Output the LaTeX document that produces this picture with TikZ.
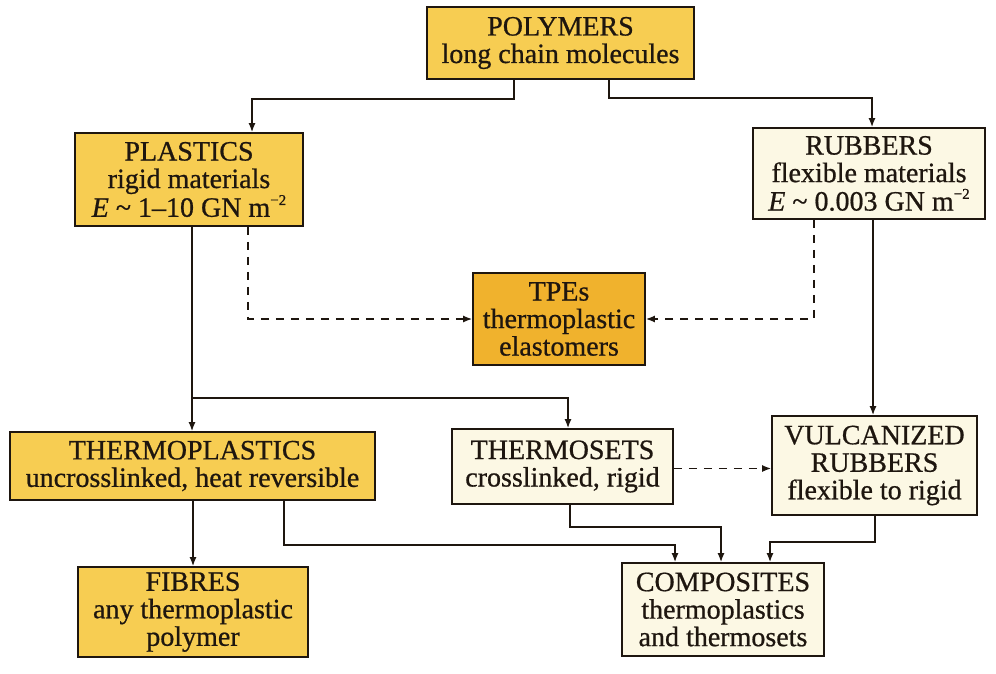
\documentclass[tikz,border=0pt]{standalone}
\usepackage{fontspec}
\setmainfont{Liberation Serif}[UprightFeatures={FakeBold=0.7},ItalicFeatures={FakeBold=0.7}]
\usetikzlibrary{arrows.meta}
\definecolor{gold}{RGB}{247,205,82}
\definecolor{amber}{RGB}{240,178,45}
\definecolor{cream}{RGB}{252,248,228}
\definecolor{ink}{RGB}{30,22,15}
\newcommand{\supmt}{\raisebox{0.42em}{\fontsize{15}{15}\selectfont −2}}
\begin{document}
\begin{tikzpicture}[x=1pt,y=-1pt,
  box/.style={draw=ink, line width=1.8pt, align=center, inner sep=0pt, text=ink,
    font=\fontsize{28}{27.5}\selectfont},
  conn/.style={draw=ink, line width=1.4pt, -{Latex[length=9pt,width=7pt]}},
  dashconn/.style={conn, dash pattern=on 8pt off 7pt}]
\useasboundingbox (0,0) rectangle (996,674);
\fill[white] (0,0) rectangle (996,674);

\node[box, fill=gold, minimum width=267pt, minimum height=72pt] (poly) at (560.5,43)
  {POLYMERS\\long chain molecules};
\node[box, fill=gold, minimum width=228pt, minimum height=93pt] (plas) at (189,179.5)
  {PLASTICS\\rigid materials\\\textit{E} \textasciitilde\ 1–10 GN m\supmt};
\node[box, fill=cream, minimum width=232pt, minimum height=91pt] (rub) at (869,173.5)
  {RUBBERS\\flexible materials\\[1pt]\textit{E} \textasciitilde\ 0.003 GN m\supmt};
\node[box, fill=amber, minimum width=172pt, minimum height=92pt] (tpe) at (559,319)
  {TPEs\\thermoplastic\\elastomers};
\node[box, fill=gold, minimum width=365pt, minimum height=68pt] (tpl) at (192.5,466)
  {THERMOPLASTICS\\uncrosslinked, heat reversible};
\node[box, fill=cream, minimum width=221pt, minimum height=75pt] (tset) at (562.5,466.5)
  {THERMOSETS\\crosslinked, rigid};
\node[box, fill=cream, minimum width=205pt, minimum height=99pt] (vul) at (874.5,465.5)
  {VULCANIZED\\RUBBERS\\flexible to rigid};
\node[box, fill=gold, minimum width=230pt, minimum height=90pt] (fib) at (193,612)
  {FIBRES\\any thermoplastic\\polymer};
\node[box, fill=cream, minimum width=202pt, minimum height=93pt] (comp) at (723,609.5)
  {COMPOSITES\\thermoplastics\\and thermosets};

\draw[conn] ([xshift=-46.5pt]poly.south) -- ++(0,19) -| ([xshift=63pt]plas.north);
\draw[conn] ([xshift=48.5pt]poly.south) -- ++(0,18) -| ([xshift=3pt]rub.north);
\draw[conn] ([xshift=3pt]plas.south) -- ([xshift=3pt]plas.south |- tpl.north);
\draw[conn] ([xshift=3pt]plas.south) ++(0,171) -| ([xshift=5.5pt]tset.north);
\draw[dashconn] ([xshift=59pt]plas.south) |- (tpe.west);
\draw[dashconn] ([xshift=-55pt]rub.south) |- (tpe.east);
\draw[conn] ([xshift=4pt]rub.south) -- ([xshift=4pt]rub.south |- vul.north);
\draw[dashconn] ([yshift=-2pt]tset.east) -- ([yshift=-2pt]tset.east -| vul.west);
\draw[conn] ([xshift=0.5pt]tpl.south) -- ([xshift=0.5pt]tpl.south |- fib.north);
\draw[conn] ([xshift=91.5pt]tpl.south) -- ++(0,44) -| ([xshift=-48pt]comp.north);
\draw[conn] ([xshift=7.5pt]tset.south) -- ++(0,22) -| ([xshift=-2pt]comp.north);
\draw[conn] ([xshift=0.5pt]vul.south) -- ++(0,26) -| ([xshift=47pt]comp.north);
\end{tikzpicture}
\end{document}
